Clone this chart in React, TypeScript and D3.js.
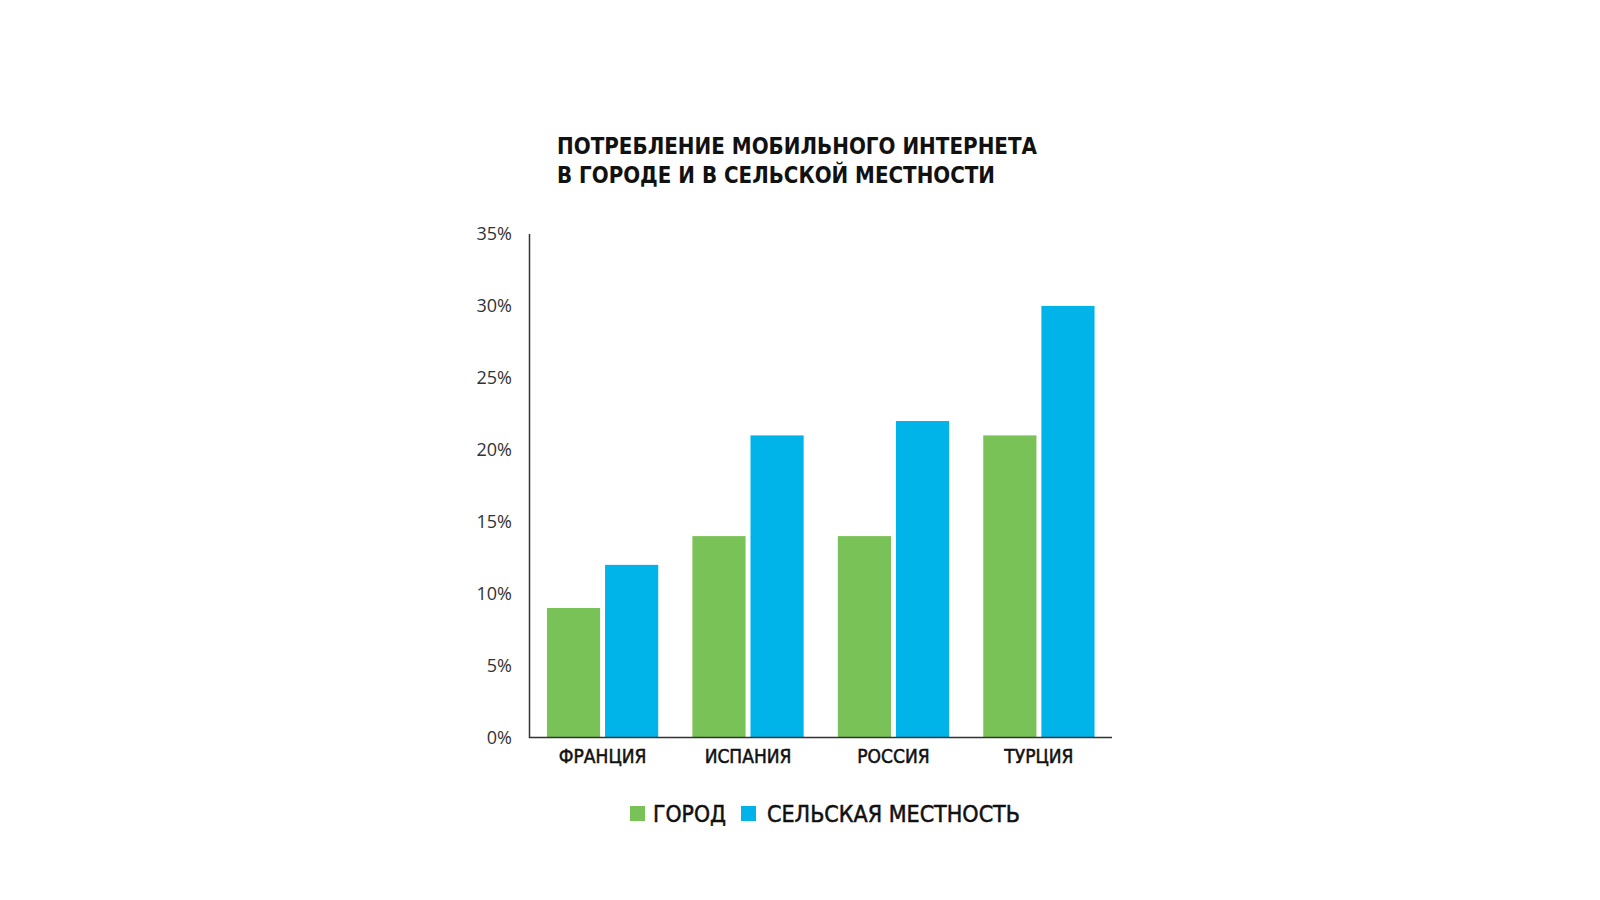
import * as d3 from 'd3'

const countries = ['ФРАНЦИЯ', 'ИСПАНИЯ', 'РОССИЯ', 'ТУРЦИЯ']
const seriesNames = ['ГОРОД', 'СЕЛЬСКАЯ МЕСТНОСТЬ']
const cityValues = [9, 14, 14, 21]
const ruralValues = [12, 21, 22, 30]
const yTicks = [0, 5, 10, 15, 20, 25, 30, 35]
const titleLines = ['ПОТРЕБЛЕНИЕ МОБИЛЬНОГО ИНТЕРНЕТА', 'В ГОРОДЕ И В СЕЛЬСКОЙ МЕСТНОСТИ']

const colors = ['#79c258', '#00b4e9']
const condensed = '"DejaVu Sans Condensed", "Liberation Sans Narrow", "Roboto Condensed", sans-serif'

export default function App() {
  const width = 1600
  const height = 900
  const left = 529.5
  const right = 1112
  const top = 234
  const bottom = 737.5

  const x0 = d3.scaleBand<string>()
    .domain(countries)
    .range([left, right])
    .paddingInner(0.235)
    .paddingOuter(0.12)

  const x1 = d3.scaleBand<string>()
    .domain(seriesNames)
    .range([0, x0.bandwidth()])
    .paddingInner(0.085)

  const y = d3.scaleLinear().domain([0, 35]).range([bottom, top])

  const series = [cityValues, ruralValues]

  return (
    <svg width={width} height={height} style={{ position: 'absolute', left: 0, top: 0, background: '#fff' }}>
      {/* title */}
      {titleLines.map((t, i) => (
        <text key={t} x={557} y={154 + i * 28.5} fontFamily={condensed} fontWeight="bold"
          fontSize={23} fill="#111" textLength={i === 0 ? 480 : 438} lengthAdjust="spacingAndGlyphs">
          {t}
        </text>
      ))}

      {/* y tick labels */}
      {yTicks.map(t => (
        <text key={t} x={512} y={y(t)} dy="0.35em" textAnchor="end"
          fontFamily='"Open Sans", sans-serif' fontSize={18} fill="#333">
          {t}%
        </text>
      ))}

      {/* bars */}
      {countries.map((c, i) => (
        <g key={c} transform={`translate(${x0(c)},0)`}>
          {seriesNames.map((s, j) => (
            <rect key={s} x={x1(s)} y={y(series[j][i])} width={x1.bandwidth()}
              height={bottom - y(series[j][i])} fill={colors[j]} />
          ))}
        </g>
      ))}

      {/* axes */}
      <path d={`M${left},${top}V${bottom}H${right}`} fill="none" stroke="#333" strokeWidth={1.5} />

      {/* x labels */}
      {countries.map(c => (
        <text key={c} x={(x0(c) ?? 0) + x0.bandwidth() / 2} y={756} dy="0.35em" textAnchor="middle"
          fontFamily={condensed} fontSize={19} fill="#111" stroke="#111" strokeWidth={0.5}>
          {c}
        </text>
      ))}

      {/* legend */}
      <rect x={630} y={806} width={15} height={15} fill={colors[0]} />
      <text x={653} y={814} dy="0.35em" fontFamily={condensed} fontSize={23} fill="#111"
        stroke="#111" strokeWidth={0.5} textLength={73} lengthAdjust="spacingAndGlyphs">{seriesNames[0]}</text>
      <rect x={741} y={806} width={15} height={15} fill={colors[1]} />
      <text x={767} y={814} dy="0.35em" fontFamily={condensed} fontSize={23} fill="#111"
        stroke="#111" strokeWidth={0.5} textLength={253} lengthAdjust="spacingAndGlyphs">{seriesNames[1]}</text>
    </svg>
  )
}
